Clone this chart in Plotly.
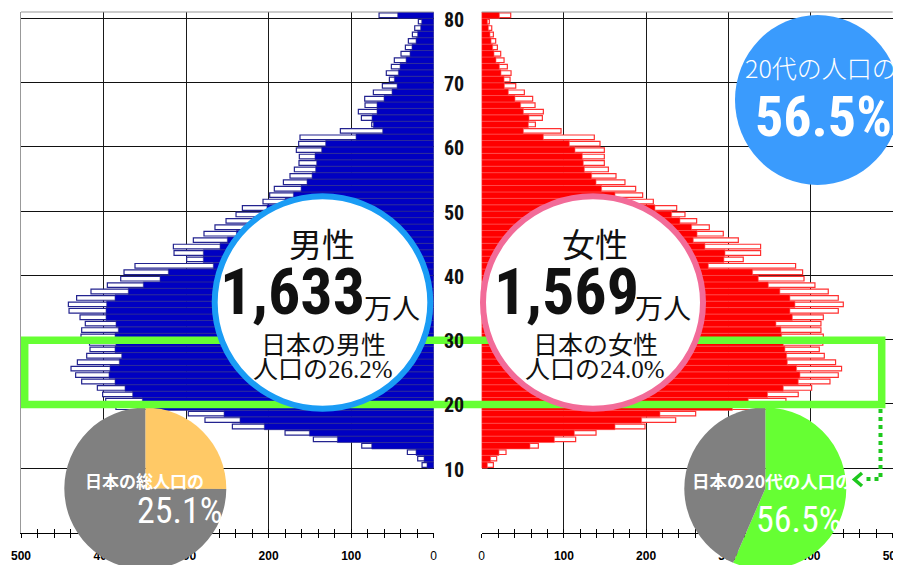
import plotly.graph_objects as go

W, H = 901, 565
OFF = 8  # page body margin offset compensation

AGES = list(range(10, 81))

MALE_TOTAL = [14.1, 19.4, 31.9, 87.2, 145.8, 180.1, 243.9, 277.1, 297.3, 385.0,
              397.4, 401.1, 407.5, 426.5, 433.8, 439.4, 431.7, 420.4, 416.4, 417.0,
              427.3, 426.5, 422.1, 428.5, 441.8, 442.6, 432.6, 415.2, 395.4, 379.2,
              375.2, 361.9, 299.3, 314.6, 315.4, 291.2, 278.3, 265.0, 251.6, 239.5,
              231.8, 206.8, 198.7, 193.1, 182.1, 174.1, 168.8, 163.2, 162.8, 166.4,
              163.6, 162.0, 113.1, 75.1, 87.6, 91.3, 83.2, 83.6, 73.1, 62.2,
              53.7, 57.4, 51.3, 47.7, 39.6, 34.3, 30.7, 25.8, 23.0, 18.6,
              66.2]
MALE_PART = [8.1, 11.7, 21.4, 75.1, 116.7, 150.6, 205.2, 234.7, 254.0, 348.0,
             353.0, 364.7, 374.0, 386.1, 393.4, 392.2, 380.9, 378.0, 386.1, 385.0,
             386.1, 382.1, 384.9, 397.0, 397.0, 396.2, 386.1, 370.0, 351.8, 331.6,
             321.5, 267.0, 279.1, 279.1, 258.9, 250.0, 239.0, 228.0, 219.0, 208.0,
             202.0, 180.0, 170.0, 160.7, 153.5, 147.4, 143.0, 141.8, 143.8, 135.7,
             130.9, 94.1, 61.8, 73.1, 74.7, 68.7, 68.7, 60.2, 50.5, 44.4,
             47.7, 42.8, 40.8, 33.5, 28.7, 26.3, 21.4, 19.4, 15.8, 14.5,
             43.6]
FEMALE_TOTAL = [14.2, 18.2, 29.6, 68.9, 114.3, 139.1, 198.7, 236.0, 260.3, 350.0,
                370.1, 385.1, 401.4, 423.7, 433.8, 437.8, 430.5, 416.8, 410.7, 415.0,
                415.6, 412.7, 412.7, 415.6, 433.8, 439.9, 433.8, 421.6, 405.4, 392.1,
                390.4, 381.9, 318.2, 339.3, 339.3, 312.2, 293.9, 276.9, 261.5, 247.3,
                237.2, 208.8, 195.8, 187.3, 174.3, 163.4, 154.1, 149.2, 149.2, 149.2,
                143.9, 137.0, 96.5, 65.3, 73.8, 75.0, 64.9, 62.0, 51.9, 41.4,
                34.5, 35.7, 31.2, 27.2, 23.1, 19.1, 17.0, 14.2, 12.2, 9.3,
                35.3]
FEMALE_PART = [6.9, 10.9, 21.1, 58.8, 88.4, 112.7, 162.2, 194.6, 216.9, 305.0,
               324.3, 347.8, 366.9, 385.1, 387.2, 383.1, 371.8, 371.0, 368.9, 366.9,
               364.9, 364.1, 358.0, 377.9, 375.0, 381.1, 375.0, 362.8, 348.7, 336.5,
               329.6, 275.7, 294.7, 296.0, 271.6, 257.4, 262.0, 255.4, 241.2, 231.1,
               210.8, 172.0, 162.2, 145.9, 139.1, 133.8, 124.9, 123.6, 122.4, 113.5,
               106.6, 75.0, 50.7, 56.8, 57.6, 50.7, 47.4, 40.5, 32.4, 27.6,
               27.2, 23.5, 21.5, 17.4, 15.0, 13.4, 11.4, 10.1, 8.1, 6.9,
               21.5]

TICK_VALS = [0, 100, 200, 300, 400, 500]
TICK_TEXT = ["0", "<b>100</b>", "<b>200</b>", "<b>300</b>", "<b>400</b>", "<b>500</b>"]
AGE_TICKS = [10, 20, 30, 40, 50, 60, 70, 80]

PIE_LEFT = [25.1, 74.9]
PIE_RIGHT = [56.5, 43.5]

NARROW = "Liberation Sans Narrow, Roboto Condensed, Arial Narrow, sans-serif"
JP = "Noto Sans CJK JP, sans-serif"


def px(x):
    return (x - OFF) / W


def py(y):
    return 1 - (y - OFF) / H


ypos = [a + 0.5 for a in AGES]

fig = go.Figure()
# male
fig.add_trace(go.Bar(x=MALE_TOTAL, y=ypos, orientation="h", width=0.72,
                     marker=dict(color="white", line=dict(color="#23238f", width=1.2)),
                     xaxis="x", yaxis="y", hoverinfo="skip", showlegend=False))
fig.add_trace(go.Bar(x=MALE_PART, y=ypos, orientation="h", width=1.0,
                     marker=dict(color="#0000c2", line=dict(color="#34348a", width=0.6)),
                     xaxis="x", yaxis="y", hoverinfo="skip", showlegend=False))
# female
fig.add_trace(go.Bar(x=FEMALE_TOTAL, y=ypos, orientation="h", width=0.72,
                     marker=dict(color="white", line=dict(color="#ff3030", width=1.2)),
                     xaxis="x2", yaxis="y2", hoverinfo="skip", showlegend=False))
fig.add_trace(go.Bar(x=FEMALE_PART, y=ypos, orientation="h", width=1.0,
                     marker=dict(color="#ff0000", line=dict(color="#ff5a5a", width=0.6)),
                     xaxis="x2", yaxis="y2", hoverinfo="skip", showlegend=False))
# dummy traces for overlay tick axes
fig.add_trace(go.Scatter(x=[None], y=[None], xaxis="x3", yaxis="y", showlegend=False, hoverinfo="skip"))
fig.add_trace(go.Scatter(x=[None], y=[None], xaxis="x4", yaxis="y2", showlegend=False, hoverinfo="skip"))

# pies (centre in screen px, radius)
r = 81
pcy = 488.5
for vals, cx, cols in ((PIE_LEFT, 145.3, ["#ffc966", "#808080"]),
                       (PIE_RIGHT, 765.3, ["#66ff33", "#808080"])):
    fig.add_trace(go.Pie(values=vals, sort=False, direction="clockwise", rotation=0,
                         marker=dict(colors=cols, line=dict(width=0)),
                         textinfo="none", hoverinfo="skip", showlegend=False,
                         domain=dict(x=[px(cx - r), px(cx + r)],
                                     y=[max(0, py(pcy + r)), py(pcy - r)])))

ydom = [py(532.5), py(12)]
tickfont = dict(family="Liberation Sans, Arial, sans-serif", size=12, color="black")
common_x = dict(tickvals=TICK_VALS, ticktext=TICK_TEXT, tickfont=tickfont, automargin=False,
                showgrid=True, gridcolor="#1a1a1a", gridwidth=1, zeroline=False,
                showline=True, linecolor="black", linewidth=1,
                ticks="outside", ticklen=4, tickcolor="black", tickwidth=1,
                ticklabelstandoff=8,
                minor=dict(dtick=20, ticks="outside", ticklen=4, tickcolor="black", showgrid=False))
overlay_x = dict(tickvals=TICK_VALS, showticklabels=False, showgrid=False, zeroline=False,
                 automargin=False, showline=False, ticks="inside", ticklen=4,
                 tickcolor="black", tickwidth=1,
                 minor=dict(dtick=20, ticks="inside", ticklen=4, tickcolor="black", showgrid=False))
common_y = dict(range=[0, 81], tickvals=[0] + AGE_TICKS, showticklabels=False, automargin=False,
                showgrid=True, gridcolor="#111111", gridwidth=1, zeroline=False,
                ticks="", showline=True, linecolor="#999999", linewidth=1, domain=ydom)

fig.update_layout(
    width=W, height=H, margin=dict(l=0, r=0, t=0, b=0, pad=0, autoexpand=False),
    paper_bgcolor="white", plot_bgcolor="white", barmode="overlay",
    xaxis=dict(domain=[px(21), px(433.7)], range=[500, 0], anchor="y", **common_x),
    xaxis2=dict(domain=[px(481.7), px(892.7)], range=[0, 500], anchor="y2", **common_x),
    xaxis3=dict(overlaying="x", range=[500, 0], anchor="y", **overlay_x),
    xaxis4=dict(overlaying="x2", range=[0, 500], anchor="y2", **overlay_x),
    yaxis=dict(anchor="x", side="left", **common_y),
    yaxis2=dict(anchor="x2", side="right", **common_y),
)

shapes = []
# top borders
for xr in ("x domain", "x2 domain"):
    shapes.append(dict(type="line", xref=xr, yref="paper", x0=0, x1=1, y0=py(12), y1=py(12),
                       line=dict(color="#999999", width=1), layer="above"))
# green rectangle
shapes.append(dict(type="rect", xref="paper", yref="paper",
                   x0=px(24.7), x1=px(881.7), y0=py(404.5), y1=py(340.3),
                   line=dict(color="#66ff33", width=7.5), fillcolor="rgba(0,0,0,0)", layer="above"))
# dotted connector
shapes.append(dict(type="path", xref="paper", yref="paper",
                   path=f"M {px(880.5)},{py(409)} L {px(880.5)},{py(479)} L {px(866)},{py(479)}",
                   line=dict(color="#1ec81e", width=4, dash="dot"), layer="above"))
shapes.append(dict(type="path", xref="paper", yref="paper",
                   path=f"M {px(862)},{py(473)} L {px(854.5)},{py(479.5)} L {px(862)},{py(486)}",
                   line=dict(color="#1ec81e", width=3.5), layer="above"))
# circles
shapes.append(dict(type="circle", xref="paper", yref="paper",
                   x0=px(214.7), x1=px(430.3), y0=py(408.7), y1=py(196.3),
                   fillcolor="white", line=dict(color="#1a9cf5", width=6), layer="above"))
shapes.append(dict(type="circle", xref="paper", yref="paper",
                   x0=px(483), x1=px(703), y0=py(408.7), y1=py(196.3),
                   fillcolor="white", line=dict(color="#f26b98", width=6), layer="above"))
shapes.append(dict(type="circle", xref="paper", yref="paper",
                   x0=px(735), x1=px(900), y0=py(185), y1=py(15),
                   fillcolor="#3a9bfd", line=dict(width=0), layer="above"))
fig.update_layout(shapes=shapes)

anns = []


def ann(text, x, y, size, family, color="#111111", weight="normal", xanchor="center"):
    anns.append(dict(text=text, x=px(x), y=py(y), xref="paper", yref="paper",
                     xanchor=xanchor, yanchor="middle", showarrow=False,
                     font=dict(size=size, family=family, color=color, weight=weight)))


for a in AGE_TICKS:
    anns.append(dict(text=str(a), x=px(453.5), y=a, xref="paper", yref="y",
                     xanchor="center", yanchor="middle", yshift=-1.5, showarrow=False,
                     font=dict(size=20, family=NARROW, color="#111111", weight="bold")))

# male circle text
ann("男性", 322.3, 243.3, 33, JP)
ann("1,633", 292.5, 292.5, 64, NARROW, weight="bold")
ann("万人", 392.3, 306.7, 28, JP)
ann("日本の男性", 323, 343.3, 25, JP)
ann("人口の<span style='font-family:Liberation Sans Narrow'>26.2%</span>", 323, 366.7, 25, JP)
# female circle text
ann("女性", 595, 243.3, 33, JP)
ann("1,569", 566, 292.5, 64, NARROW, weight="bold")
ann("万人", 663, 306.7, 28, JP)
ann("日本の女性", 595.5, 343.3, 25, JP)
ann("人口の<span style='font-family:Liberation Sans Narrow'>24.0%</span>", 595, 366.7, 25, JP)
# blue circle
ann("20代の人口の", 821, 66.7, 25, JP, color="white", weight=300)
ann("56.5%", 823, 117, 56, NARROW, color="white", weight="bold")
# pies
ann("日本の総人口の", 144, 480, 17, JP, color="white", weight="bold")
ann("25.1%", 180, 511, 36, NARROW, color="white")
ann("日本の20代の人口の", 772.5, 480.7, 17.5, JP, color="white", weight="bold")
ann("56.5%", 798.5, 520, 36, NARROW, color="white")

fig.update_layout(annotations=anns)

fig.write_html("out.html")
